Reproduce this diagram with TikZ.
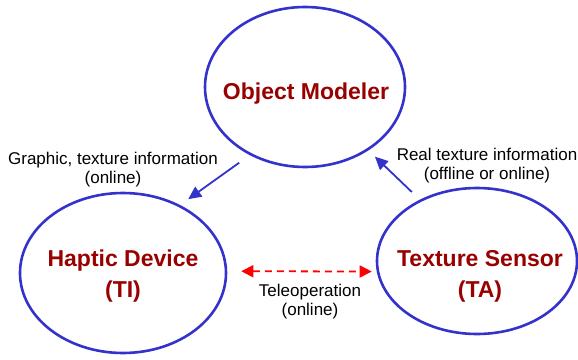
\documentclass[tikz,border=0pt]{standalone}
\usepackage{fontspec}
\setmainfont{Liberation Sans}
\usetikzlibrary{shapes.geometric,arrows.meta}
\definecolor{eblue}{HTML}{3333CC}
\definecolor{tred}{HTML}{990000}
\definecolor{ared}{HTML}{FF0000}
\tikzset{
  oval/.style={ellipse, draw=eblue, line width=2.6pt, inner sep=0pt},
  ovaltext/.style={text=tred, align=center, inner sep=0pt,
    font=\fontsize{23}{31}\selectfont\bfseries},
  lbl/.style={align=center, font=\fontsize{17}{19}\selectfont, inner sep=0pt},
  barr/.style={draw=eblue, line width=1.8pt, -{Triangle[length=13pt,width=12pt]}},
  rarr/.style={draw=ared, line width=1.8pt, dash pattern=on 7pt off 5pt,
    {Triangle[length=12pt,width=12pt]}-{Triangle[length=12pt,width=12pt]}}
}
\begin{document}
\begin{tikzpicture}[x=1pt,y=-1pt]
\useasboundingbox (0,0) rectangle (578,359);
\node[oval, minimum width=200pt, minimum height=160pt] (om) at (305,87) {};
\node[oval, minimum width=206pt, minimum height=160pt] (hd) at (123,273) {};
\node[oval, minimum width=200pt, minimum height=146pt] (ts) at (477,261) {};
\node[ovaltext] (omt) at (306,94) {Object Modeler};
\node[ovaltext] (hdt) at (123,276) {Haptic Device\\(TI)};
\node[ovaltext] (tst) at (480,276) {Texture Sensor\\(TA)};
\draw[barr, shorten <=13pt, shorten >=10pt] (om.231) -- (hd.50);
\draw[barr, shorten <=11pt, shorten >=9pt] (ts.133) -- (om.315);
\draw[rarr, shorten <=14pt, shorten >=5pt] (hd.1) -- (ts.186);
\node[lbl] (l1) at (113,170) {Graphic, texture information\\(online)};
\node[lbl] (l2) at (487,166) {Real texture information\\(offline or online)};
\node[lbl] (l3) at (310,302) {Teleoperation\\(online)};
\end{tikzpicture}
\end{document}
